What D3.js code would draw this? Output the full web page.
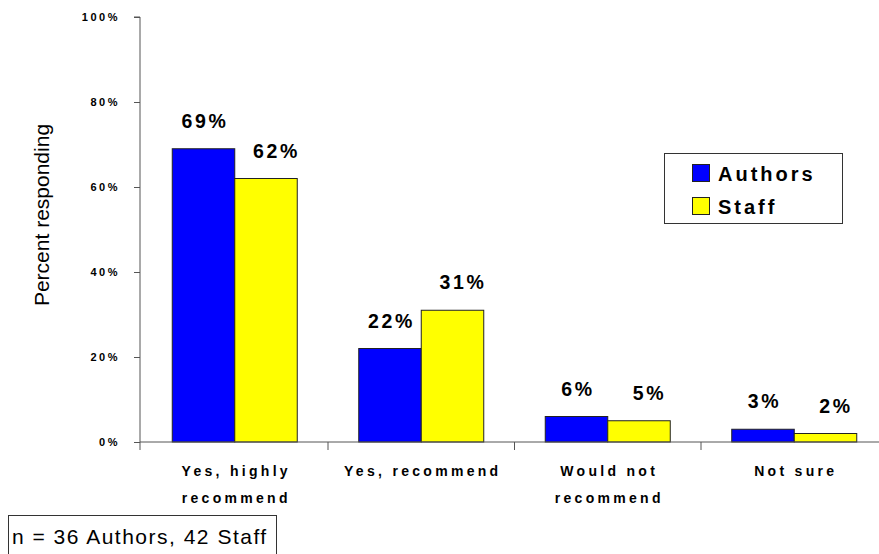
<!DOCTYPE html>
<html><head><meta charset="utf-8">
<script src="https://cdn.jsdelivr.net/npm/d3@7"></script>
<style>
body{margin:0;background:#fff;}
svg{display:block;font-family:Arial,"Liberation Sans",sans-serif;}
</style></head>
<body><svg id="c" width="879" height="554"></svg>
<script>
const categories = [["Yes, highly","recommend"],["Yes, recommend"],["Would not","recommend"],["Not sure"]];
const series = ["Authors","Staff"];
const authors = [69,22,6,3];
const staff = [62,31,5,2];
const yTicks = [0,20,40,60,80,100];
const colors = ["#0000ff","#ffff00"];
const note = "n = 36 Authors, 42 Staff";
const yTitle = "Percent responding";

const svg = d3.select("#c");
const y = d3.scaleLinear().domain([0,100]).range([442,17]);
const x0 = d3.scaleBand().domain(d3.range(categories.length)).range([141.5,887.5]).padding(0);
const x1 = d3.scaleBand().domain(series).range([0,x0.bandwidth()]).paddingInner(0).paddingOuter(0.492);
const values = [authors, staff];

// bars
categories.forEach((c,i)=>{
  series.forEach((s,j)=>{
    const v = values[j][i];
    svg.append("rect")
      .attr("x", x0(i)+x1(s)).attr("y", y(v))
      .attr("width", x1.bandwidth()).attr("height", y(0)-y(v))
      .attr("fill", colors[j]).attr("stroke","#222").attr("stroke-width",1);
    svg.append("text")
      .attr("x", x0(i)+x1(s)+x1.bandwidth()/2 + (j===1?9:0) + 1.5)
      .attr("y", y(v)-21)
      .attr("text-anchor","middle")
      .attr("font-size",19.5).attr("font-weight","bold").attr("letter-spacing",2.6)
      .attr("fill","#000")
      .text(v+"%");
  });
});

// x axis baseline
svg.append("line").attr("x1",140).attr("x2",879).attr("y1",y(0)).attr("y2",y(0)).attr("stroke","#555").attr("stroke-width",1);
// category ticks
d3.range(1,categories.length).forEach(i=>{
  svg.append("line").attr("x1",x0(i)).attr("x2",x0(i)).attr("y1",y(0)).attr("y2",y(0)+8).attr("stroke","#555");
});
// category labels
categories.forEach((c,i)=>{
  c.forEach((line,k)=>{
    svg.append("text")
      .attr("x", x0(i)+x0.bandwidth()/2 + 1.5).attr("y", 476 + k*27)
      .attr("text-anchor","middle")
      .attr("font-size",14).attr("font-weight","bold").attr("letter-spacing",3.3)
      .text(line);
  });
});

// y axis
const yAxis = d3.axisLeft(y).tickValues(yTicks).tickSize(6).tickFormat(d=>d+"%");
const ga = svg.append("g").attr("transform","translate(140,0)").call(yAxis);
ga.select(".domain").attr("stroke","#555").attr("d","M-6,"+y(100)+"H0V"+(y(0)+8));
ga.selectAll(".tick line").attr("stroke","#555");
ga.selectAll(".tick text").attr("x",-20).attr("font-size",11).attr("font-weight","bold")
  .attr("letter-spacing",2.5).attr("font-family","Arial,'Liberation Sans',sans-serif").attr("fill","#000");

// y title
svg.append("text").attr("transform","translate(49,215) rotate(-90)")
  .attr("text-anchor","middle").attr("font-size",21).text(yTitle);

// legend
svg.append("rect").attr("x",664.5).attr("y",153.5).attr("width",178).attr("height",70)
  .attr("fill","#fff").attr("stroke","#333");
series.forEach((s,j)=>{
  svg.append("rect").attr("x",692.5).attr("y",164.5+j*33).attr("width",17).attr("height",17)
    .attr("fill",colors[j]).attr("stroke","#222");
  svg.append("text").attr("x",718).attr("y",181+j*33)
    .attr("font-size",20).attr("font-weight","bold").attr("letter-spacing",3).text(s);
});

// note box
svg.append("rect").attr("x",8.5).attr("y",515.5).attr("width",268).attr("height",50)
  .attr("fill","#fff").attr("stroke","#333");
svg.append("text").attr("x",12).attr("y",544).attr("font-size",21).attr("letter-spacing",1.5).text(note);
</script>
</body></html>
